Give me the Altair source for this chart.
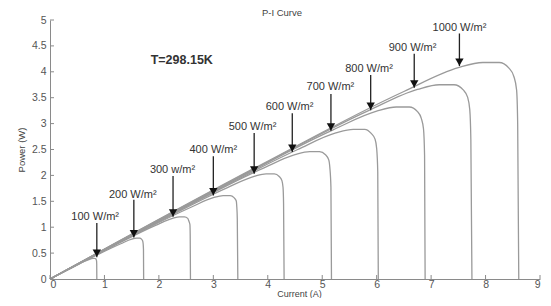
import altair as alt
import pandas as pd

# Irradiance levels (W/m^2)
irradiance = [100, 200, 300, 400, 500, 600, 700, 800, 900, 1000]

# Points (current in A, power in W)
I_100 = [0, 0.39, 0.65, 0.75, 0.79, 0.82, 0.84, 0.85, 0.855, 0.858, 0.86]
P_100 = [0, 0.21, 0.35, 0.39, 0.40, 0.40, 0.39, 0.37, 0.35, 0.29, 0]
I_200 = [0, 0.78, 1.30, 1.50, 1.59, 1.65, 1.68, 1.70, 1.71, 1.717, 1.72]
P_200 = [0, 0.42, 0.68, 0.77, 0.79, 0.79, 0.77, 0.74, 0.69, 0.57, 0]
I_300 = [0, 1.17, 1.95, 2.25, 2.38, 2.47, 2.53, 2.55, 2.57, 2.575, 2.58]
P_300 = [0, 0.64, 1.04, 1.17, 1.20, 1.20, 1.17, 1.12, 1.05, 0.86, 0]
I_400 = [0, 1.56, 2.60, 3.00, 3.18, 3.31, 3.38, 3.42, 3.43, 3.44, 3.45]
P_400 = [0, 0.86, 1.39, 1.57, 1.61, 1.61, 1.57, 1.51, 1.41, 1.16, 0]
I_500 = [0, 1.95, 3.25, 3.75, 3.97, 4.12, 4.21, 4.26, 4.28, 4.29, 4.30]
P_500 = [0, 1.08, 1.76, 1.98, 2.03, 2.03, 1.98, 1.90, 1.77, 1.46, 0]
I_600 = [0, 2.34, 3.90, 4.50, 4.77, 4.95, 5.06, 5.12, 5.14, 5.16, 5.17]
P_600 = [0, 1.31, 2.13, 2.40, 2.46, 2.46, 2.40, 2.30, 2.15, 1.77, 0]
I_700 = [0, 2.73, 4.55, 5.25, 5.57, 5.78, 5.90, 5.97, 6.00, 6.02, 6.03]
P_700 = [0, 1.53, 2.50, 2.82, 2.89, 2.89, 2.81, 2.70, 2.52, 2.07, 0]
I_800 = [0, 3.12, 5.20, 6.00, 6.36, 6.60, 6.75, 6.82, 6.86, 6.88, 6.89]
P_800 = [0, 1.76, 2.88, 3.24, 3.32, 3.32, 3.23, 3.10, 2.90, 2.38, 0]
I_900 = [0, 3.51, 5.85, 6.75, 7.15, 7.42, 7.59, 7.67, 7.71, 7.73, 7.75]
P_900 = [0, 1.99, 3.25, 3.66, 3.75, 3.75, 3.65, 3.51, 3.27, 2.69, 0]
I_1000 = [0, 3.90, 6.50, 7.50, 7.95, 8.25, 8.43, 8.52, 8.57, 8.59, 8.61]
P_1000 = [0, 2.22, 3.62, 4.08, 4.18, 4.18, 4.07, 3.91, 3.65, 3.00, 0]

# Annotation arrows
arrow_I = [0.86, 1.54, 2.26, 3.00, 3.75, 4.45, 5.16, 5.89, 6.69, 7.52]
arrow_tip = [0.42, 0.80, 1.20, 1.61, 2.03, 2.45, 2.86, 3.26, 3.69, 4.11]
arrow_top = [1.08, 1.53, 1.99, 2.37, 2.82, 3.20, 3.57, 3.94, 4.35, 4.74]
label_I = [0.83, 1.52, 2.25, 3.00, 3.72, 4.40, 5.15, 5.86, 6.66, 7.52]
label_P = [1.19, 1.63, 2.10, 2.49, 2.93, 3.33, 3.70, 4.05, 4.46, 4.84]
label_text = ["100 W/m²", "200 W/m²", "300 w/m²", "400 W/m²", "500 W/m²",
              "600 W/m²", "700 W/m²", "800 W/m²", "900 W/m²", "1000 W/m²"]

x_ticks = [0, 1, 2, 3, 4, 5, 6, 7, 8, 9]
y_ticks = [0, 0.5, 1, 1.5, 2, 2.5, 3, 3.5, 4, 4.5, 5]

chart_title = "P-I Curve"
temperature_text = "T=298.15K"

FONT = "Liberation Sans"
W, H = 490, 259

all_I = [I_100, I_200, I_300, I_400, I_500, I_600, I_700, I_800, I_900, I_1000]
all_P = [P_100, P_200, P_300, P_400, P_500, P_600, P_700, P_800, P_900, P_1000]
rows = []
for g, Is, Ps in zip(irradiance, all_I, all_P):
    for k, (i, p) in enumerate(zip(Is, Ps)):
        rows.append({"G": g, "I": i, "P": p, "k": k})
curves = pd.DataFrame(rows)

arrows = pd.DataFrame({"I": arrow_I, "tip": arrow_tip, "top": arrow_top,
                       "lx": label_I, "ly": label_P, "text": label_text})

xs = alt.Scale(domain=[0, 9], nice=False, zero=False)
ys = alt.Scale(domain=[0, 5], nice=False, zero=False)
x_axis = alt.Axis(values=x_ticks, labelPadding=0, titleX=249, titleY=17,
                  titleBaseline="alphabetic", titleFontSize=9)
y_axis = alt.Axis(values=y_ticks, titlePadding=5, labelPadding=4)


def X(field):
    return alt.X(field, scale=xs, title="Current (A)", axis=x_axis)


def Y(field):
    return alt.Y(field, scale=ys, title="Power (W)", axis=y_axis)


lines = alt.Chart(curves).mark_line(
    color="#9a9a9a", strokeWidth=1.3, interpolate="monotone"
).encode(x=X("I:Q"), y=Y("P:Q"), detail="G:N", order="k:Q")

xt = alt.Chart(pd.DataFrame({"v": x_ticks})).mark_rule(color="#8a8a8a").encode(
    x=X("v:Q"), y=alt.value(H - 4), y2=alt.value(H))
yt = alt.Chart(pd.DataFrame({"v": y_ticks})).mark_rule(color="#8a8a8a").encode(
    y=Y("v:Q"), x=alt.value(0), x2=alt.value(4))

stems = alt.Chart(arrows).mark_rule(color="#222", strokeWidth=1.3).encode(
    x=X("I:Q"), y=Y("top:Q"), y2="tip:Q")
heads = alt.Chart(arrows).mark_point(
    shape="triangle-down", filled=True, size=70, color="#111", opacity=1, yOffset=-4
).encode(x=X("I:Q"), y=Y("tip:Q"))
labels = alt.Chart(arrows).mark_text(
    fontSize=11, font=FONT, color="#333", align="center", baseline="middle"
).encode(x=X("lx:Q"), y=Y("ly:Q"), text="text:N")

temp = alt.Chart(pd.DataFrame({"x": [2.42], "y": [4.23], "t": [temperature_text]})).mark_text(
    fontSize=12.5, font=FONT, fontWeight="bold", color="#333", align="center", baseline="middle"
).encode(x=X("x:Q"), y=Y("y:Q"), text="t:N")

title_txt = alt.Chart(pd.DataFrame({"t": [chart_title]})).mark_text(
    fontSize=9.5, font=FONT, color="#444", align="center", baseline="middle"
).encode(x=alt.value(232), y=alt.value(-7), text="t:N")

chart = alt.layer(lines, xt, yt, stems, heads, labels, temp, title_txt).properties(
    width=W, height=H,
    autosize=alt.AutoSizeParams(type="none"),
    padding={"left": 42, "top": 12, "right": 3, "bottom": 19},
).configure(
    background="white",
    view=alt.ViewConfig(stroke=None),
    axis=alt.AxisConfig(
        ticks=False, grid=False, format="~g",
        domainColor="#8a8a8a", labelColor="#555", labelFontSize=10.5, labelFont=FONT,
        titleFont=FONT, titleFontSize=9.5, titleFontWeight="normal", titleColor="#444",
    ),
)

chart.save("out.html", embed_options={"renderer": "svg", "actions": False})
